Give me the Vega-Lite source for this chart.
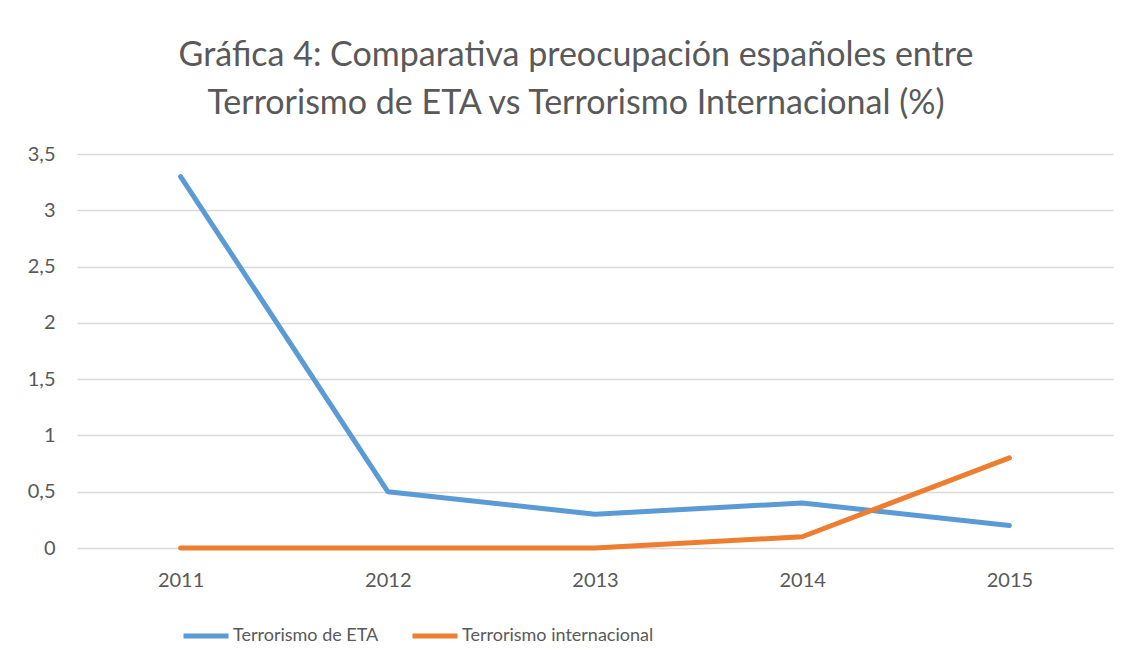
{
  "$schema": "https://vega.github.io/schema/vega-lite/v6.json",
  "width": 1036,
  "height": 394,
  "autosize": {"type": "none"},
  "padding": {"left": 77, "top": 154, "right": 18, "bottom": 118},
  "background": "white",
  "title": {
    "text": ["Gráfica 4: Comparativa preocupación españoles entre", "Terrorismo de ETA vs Terrorismo Internacional (%)"],
    "anchor": "middle",
    "frame": "group",
    "dx": -19,
    "font": "Lato",
    "fontSize": 34,
    "fontWeight": "normal",
    "color": "#595959",
    "lineHeight": 48,
    "offset": 23
  },
  "data": {
    "values": [
      {"year": "2011", "serie": "Terrorismo de ETA", "valor": 3.3},
      {"year": "2012", "serie": "Terrorismo de ETA", "valor": 0.5},
      {"year": "2013", "serie": "Terrorismo de ETA", "valor": 0.3},
      {"year": "2014", "serie": "Terrorismo de ETA", "valor": 0.4},
      {"year": "2015", "serie": "Terrorismo de ETA", "valor": 0.2},
      {"year": "2011", "serie": "Terrorismo internacional", "valor": 0},
      {"year": "2012", "serie": "Terrorismo internacional", "valor": 0},
      {"year": "2013", "serie": "Terrorismo internacional", "valor": 0},
      {"year": "2014", "serie": "Terrorismo internacional", "valor": 0.1},
      {"year": "2015", "serie": "Terrorismo internacional", "valor": 0.8}
    ]
  },
  "mark": {"type": "line", "strokeWidth": 5, "strokeCap": "round", "strokeJoin": "round"},
  "encoding": {
    "x": {
      "field": "year",
      "type": "ordinal",
      "scale": {"type": "point", "padding": 0.5},
      "axis": {
        "title": null,
        "labelAngle": 0,
        "ticks": false,
        "domain": false,
        "grid": false,
        "labelPadding": 22,
        "labelFont": "Lato",
        "labelFontSize": 20,
        "labelColor": "#595959"
      }
    },
    "y": {
      "field": "valor",
      "type": "quantitative",
      "scale": {"domain": [0, 3.5], "nice": false},
      "axis": {
        "title": null,
        "values": [0, 0.5, 1, 1.5, 2, 2.5, 3, 3.5],
        "format": ",.1~f",
        "formatType": "number",
        "labelExpr": "replace(datum.label, '.', ',')",
        "ticks": false,
        "domain": false,
        "grid": true,
        "gridColor": "#d9d9d9",
        "gridWidth": 1.5,
        "labelPadding": 22,
        "labelFont": "Lato",
        "labelFontSize": 20,
        "labelColor": "#595959"
      }
    },
    "color": {
      "field": "serie",
      "type": "nominal",
      "scale": {"domain": ["Terrorismo de ETA", "Terrorismo internacional"], "range": ["#5B9BD5", "#ED7D31"]},
      "legend": {
        "title": null,
        "orient": "none",
        "direction": "horizontal",
        "legendX": 104,
        "legendY": 457,
        "symbolType": "stroke",
        "symbolSize": 2025,
        "symbolStrokeWidth": 5,
        "labelFont": "Lato",
        "labelFontSize": 18,
        "labelLimit": 0,
        "labelColor": "#595959",
        "labelOffset": 2,
        "columnPadding": 23
      }
    }
  },
  "config": {"view": {"stroke": null}}
}
